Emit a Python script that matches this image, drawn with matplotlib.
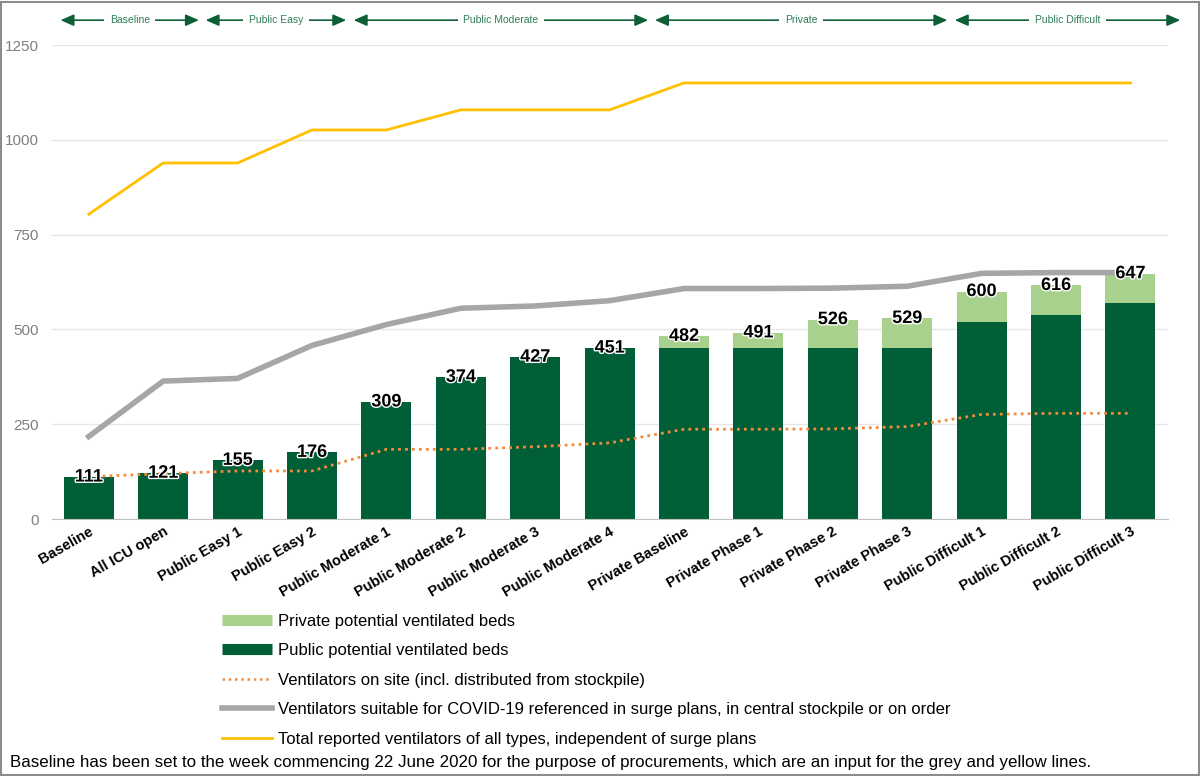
import numpy as np
import matplotlib.pyplot as plt
import matplotlib.patheffects as pe
from matplotlib.lines import Line2D
from matplotlib.patches import Rectangle
import matplotlib.transforms as mtransforms

plt.rcParams['font.family'] = ['Liberation Sans', 'DejaVu Sans']

categories = ['Baseline', 'All ICU open', 'Public Easy 1', 'Public Easy 2',
              'Public Moderate 1', 'Public Moderate 2', 'Public Moderate 3',
              'Public Moderate 4', 'Private Baseline', 'Private Phase 1',
              'Private Phase 2', 'Private Phase 3', 'Public Difficult 1',
              'Public Difficult 2', 'Public Difficult 3']
public_beds = [111, 121, 155, 176, 309, 374, 427, 451, 451, 451, 451, 451, 520, 538, 569]
total_beds = [111, 121, 155, 176, 309, 374, 427, 451, 482, 491, 526, 529, 600, 616, 647]
private_beds = [t - p for t, p in zip(total_beds, public_beds)]
on_site = [112, 120, 127, 127, 184, 184, 191, 201, 237, 237, 238, 244, 276, 279, 279]
suitable = [218, 364, 371, 458, 513, 556, 562, 576, 608, 608, 609, 614, 648, 650, 650]
total_vent = [804, 939, 939, 1026, 1026, 1079, 1079, 1079, 1150, 1150, 1150, 1150, 1150, 1150, 1150]

groups = ['Baseline', 'Public Easy', 'Public Moderate', 'Private', 'Public Difficult']
group_spans = [(-0.38, 1.48), (1.57, 3.46), (3.56, 7.52), (7.61, 11.54), (11.64, 14.67)]

dark = '#005f37'
light = '#a9d18e'
orange = '#f28b3c'
grey = '#a6a6a6'
yellow = '#ffc000'

fig = plt.figure(figsize=(12, 7.76), dpi=100)
ax = fig.add_axes([0.043, 0.331, 0.930, 0.611])

x = np.arange(len(categories))
w = 0.67
ax.bar(x, public_beds, w, color=dark, zorder=2)
ax.bar(x, private_beds, w, bottom=public_beds, color=light, zorder=2)
ax.plot(x, suitable, color=grey, lw=4, zorder=3, solid_joinstyle='round')
ax.plot(x, total_vent, color=yellow, lw=2, zorder=3)
ax.plot(x, on_site, color=orange, lw=2, ls=(0, (1, 1.5)), zorder=3)

for xi, t in zip(x, total_beds):
    ax.text(xi, t, str(t), ha='center', va='center', fontsize=13, fontweight='bold',
            color='black', zorder=5,
            path_effects=[pe.withStroke(linewidth=2, foreground='white')])

ax.set_xlim(-0.5, 14.5)
ax.set_ylim(0, 1250)
ax.set_yticks([0, 250, 500, 750, 1000, 1250])
ax.tick_params(axis='y', length=0, labelsize=11, labelcolor='#7f7f7f', pad=9)
ax.tick_params(axis='x', length=0, pad=4)
ax.set_xticks(x)
ax.set_xticklabels(categories, rotation=30, ha='right', rotation_mode='anchor',
                   fontsize=10.5, fontweight='bold')
ax.grid(axis='y', color='#e6e6e6', lw=1, zorder=0)
for s in ['top', 'right', 'left']:
    ax.spines[s].set_visible(False)
ax.spines['bottom'].set_color('#bfbfbf')

# group arrows across the top
trans = mtransforms.blended_transform_factory(ax.transData, fig.transFigure)
for name, (a, b) in zip(groups, group_spans):
    ax.annotate('', xy=(b, 0.974), xytext=(a, 0.974), xycoords=trans, textcoords=trans,
                arrowprops=dict(arrowstyle='<|-|>,head_length=0.8,head_width=0.35',
                                color='#0e5e38', lw=1.2, shrinkA=0, shrinkB=0),
                annotation_clip=False)
    ax.text((a + b) / 2, 0.974, name, transform=trans, ha='center', va='center',
            fontsize=7.5, color='#2f7d58',
            bbox=dict(facecolor='white', edgecolor='none', pad=4))

handles = [Line2D([], [], color=light, lw=8, solid_capstyle='butt'),
           Line2D([], [], color=dark, lw=8, solid_capstyle='butt'),
           Line2D([], [], color=orange, lw=1.8, ls=(0, (1, 1.5))),
           Line2D([], [], color=grey, lw=4),
           Line2D([], [], color=yellow, lw=2)]
labels = ['Private potential ventilated beds',
          'Public potential ventilated beds',
          'Ventilators on site (incl. distributed from stockpile)',
          'Ventilators suitable for COVID-19 referenced in surge plans, in central stockpile or on order',
          'Total reported ventilators of all types, independent of surge plans']
fig.legend(handles, labels, loc='upper left', bbox_to_anchor=(0.185, 0.209),
           frameon=False, fontsize=12, handlelength=3.0, handletextpad=0.35,
           labelspacing=0.87, borderaxespad=0, borderpad=0)

fig.text(0.008, 0.017, 'Baseline has been set to the week commencing 22 June 2020 for the purpose '
         'of procurements, which are an input for the grey and yellow lines.',
         fontsize=12.2, va='center', ha='left')

fig.patches.append(Rectangle((0.001, 0.001), 0.998, 0.997, transform=fig.transFigure,
                             fill=False, edgecolor='#8c8c8c', lw=1.5))

fig.savefig('out.png', dpi=100)
